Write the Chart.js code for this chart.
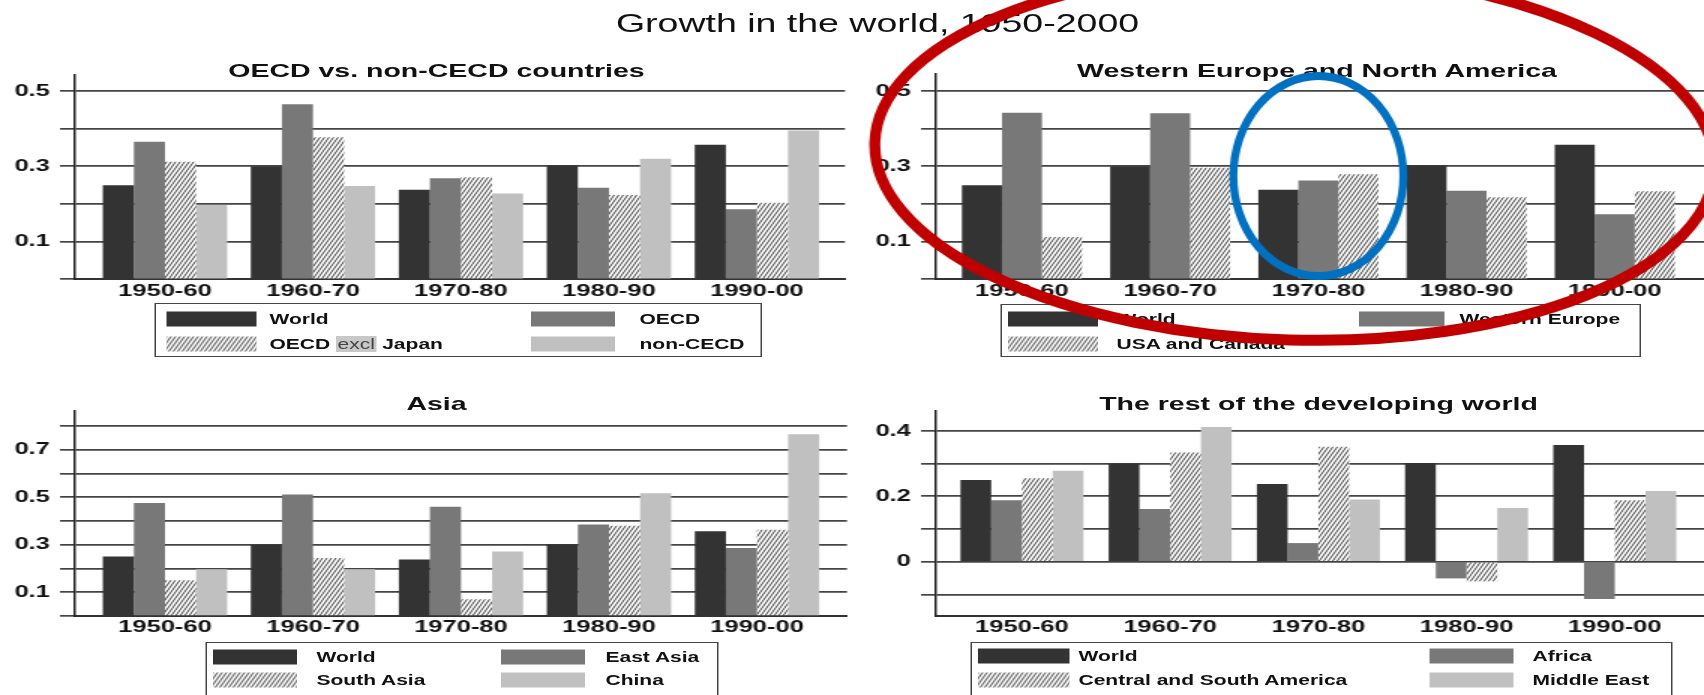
<!DOCTYPE html>
<html>
<head>
<meta charset="utf-8">
<title>Growth in the world, 1950-2000</title>
<script src="https://cdn.jsdelivr.net/npm/chart.js@4.4.1/dist/chart.umd.min.js"></script>
<style>
  html, body { margin: 0; padding: 0; background: #fff; overflow: hidden; }
  /* the original picture is stretched sideways, so the whole page is laid out narrow and scaled */
  #page {
    position: absolute; left: 0; top: 0; width: 1136px; height: 695px;
    transform: scaleX(1.5); transform-origin: 0 0;
    font-family: 'Liberation Sans', Arial, sans-serif; color: #111;
  }
  .title { position: absolute; white-space: nowrap; line-height: 1; transform: translate(-50%, -50%); z-index: 1; }
  .sub { font-weight: bold; font-size: 19px; }
  .legend { position: absolute; border: 1px solid #444; box-sizing: border-box; background: #fff; z-index: 1; }
  .sw { position: absolute; height: 15px; transform: translateY(-50%); }
  .lt { position: absolute; font-weight: bold; font-size: 14px; line-height: 1; white-space: nowrap; transform: translateY(-50%); }
  .hl { font-weight: normal; background: #c8c8c8; color: #444; padding: 0 1px; }
  canvas { position: absolute; z-index: 2; }
</style>
</head>
<body>
<div id="page">
  <div class="title" style="left:585px; top:23px; font-size:25px;">Growth in the world, 1950-2000</div>
  <div class="title sub" style="left:291px; top:70px;">OECD vs. non-CECD countries</div>
  <div class="title sub" style="left:878px; top:70px;">Western Europe and North America</div>
  <div class="title sub" style="left:291px; top:403px;">Asia</div>
  <div class="title sub" style="left:879px; top:403px;">The rest of the developing world</div>
  <canvas id="c1" width="570" height="370" style="left:0; top:0;"></canvas>
  <canvas id="c2" width="566" height="370" style="left:570px; top:0;"></canvas>
  <canvas id="c3" width="570" height="325" style="left:0; top:370px;"></canvas>
  <canvas id="c4" width="566" height="325" style="left:570px; top:370px;"></canvas>
</div>
<script>
const S = 1.5;

const periods = ['1950-60', '1960-70', '1970-80', '1980-90', '1990-00'];

const world = [0.25, 0.30, 0.238, 0.302, 0.357];

const oecd = [0.365, 0.465, 0.268, 0.243, 0.186];
const oecdExclJapan = [0.312, 0.377, 0.271, 0.224, 0.203];
const nonOecd = [0.197, 0.248, 0.228, 0.320, 0.395];

const westernEurope = [0.442, 0.441, 0.262, 0.235, 0.173];
const usaCanada = [0.112, 0.296, 0.279, 0.218, 0.234];

const eastAsia = [0.476, 0.512, 0.46, 0.385, 0.286];
const southAsia = [0.15, 0.244, 0.07, 0.38, 0.363];
const china = [0.197, 0.197, 0.272, 0.517, 0.765];

const africa = [0.188, 0.161, 0.057, -0.051, -0.114];
const centralSouthAmerica = [0.255, 0.334, 0.352, -0.06, 0.188];
const middleEast = [0.278, 0.412, 0.19, 0.164, 0.216];

const ticksTop = ['0.1', '0.3', '0.5'];
const ticksAsia = ['0.1', '0.3', '0.5', '0.7'];
const ticksRest = ['0', '0.2', '0.4'];

const DARK = '#333333', MID = '#787878', LIGHT = '#c0c0c0';

// small tile for the hatched series
const hatch = document.createElement('canvas');
hatch.width = 3; hatch.height = 6;
(function () {
    const g = hatch.getContext('2d');
    g.fillStyle = '#fff';
    g.fillRect(0, 0, 3, 6);
    g.strokeStyle = '#2a2a2a';
    g.lineWidth = 0.9;
    for (const dx of [-3, 0, 3]) {
        g.beginPath();
        g.moveTo(dx - 1, 8);
        g.lineTo(dx + 4, -2);
        g.stroke();
    }
})();

Chart.defaults.font.family = "'Liberation Sans', Arial, sans-serif";
Chart.defaults.font.size = 17;
Chart.defaults.font.weight = 'bold';
Chart.defaults.color = '#111';

function panel(id, o) {
    const ctx = document.getElementById(id).getContext('2d');
    const pat = ctx.createPattern(hatch, 'repeat');
    return new Chart(ctx, {
        type: 'bar',
        data: {
            labels: periods.map((p, i) => i),
            datasets: o.series.map((s, k) => ({
                label: o.names[k],
                data: s,
                backgroundColor: o.fills[k] === 'hatch' ? pat : o.fills[k],
                borderWidth: 0,
                barPercentage: 1,
                categoryPercentage: o.catPct
            }))
        },
        options: {
            responsive: false,
            animation: false,
            events: [],
            layout: { padding: o.pad },
            plugins: { legend: { display: false }, tooltip: { enabled: false } },
            scales: {
                x: {
                    type: 'linear', min: o.xr[0], max: o.xr[1], offset: false,
                    grid: { display: false, drawTicks: false },
                    border: { display: true, color: '#333', width: 2 },
                    ticks: { padding: o.xpad, autoSkip: false, maxRotation: 0, callback: v => periods[v] },
                    afterBuildTicks: s => { s.ticks = periods.map((p, i) => ({ value: i })); },
                    afterFit: s => { s.height = 30; }
                },
                y: {
                    min: o.yr[0], max: o.yr[1],
                    ticks: {
                        stepSize: 0.1, padding: 6.7,
                        callback: v => {
                            const t = String(+v.toFixed(1));
                            return o.shown.includes(t) ? t : '';
                        }
                    },
                    // one line every 0.1 inside the range
                    afterBuildTicks: s => {
                        const t = [];
                        for (let v = Math.ceil(s.min * 10 - 1e-6); v <= Math.floor(s.max * 10 + 1e-6); v++) t.push({ value: v / 10 });
                        s.ticks = t;
                    },
                    grid: { color: '#444', lineWidth: 1.7, tickLength: 10 },
                    border: { color: '#222', width: 1.5 },
                    afterFit: s => { s.width = 50; }
                }
            }
        },
        plugins: o.plugins || []
    });
}

// red and blue rings drawn over the top right panel
const rings = {
    id: 'rings',
    afterDraw(chart) {
        const { ctx, scales: { x, y } } = chart;
        ctx.save();
        ctx.scale(1 / S, 1);
        ctx.lineWidth = 11;
        ctx.strokeStyle = '#c00000';
        ctx.beginPath();
        ctx.ellipse(x.getPixelForValue(1.84) * S, y.getPixelForValue(0.33), 420, 185, 0.03, 0, Math.PI * 2);
        ctx.stroke();
        ctx.lineWidth = 8;
        ctx.strokeStyle = '#0070c0';
        ctx.beginPath();
        ctx.ellipse(x.getPixelForValue(2) * S, y.getPixelForValue(0.274), 85, 100, 0, 0, Math.PI * 2);
        ctx.stroke();
        ctx.restore();
    }
};

function legend(names, fills, box, colX, colW, textX, rowY) {
    const page = document.getElementById('page');
    const div = document.createElement('div');
    div.className = 'legend';
    div.style.left = box[0] / S + 'px';
    div.style.top = box[1] + 'px';
    div.style.width = box[2] / S + 'px';
    div.style.height = box[3] + 'px';
    page.appendChild(div);
    names.forEach((name, k) => {
        const col = k % 2, row = Math.floor(k / 2);
        const sw = document.createElement('div');
        sw.className = 'sw';
        sw.style.left = (colX[col] - box[0]) / S + 'px';
        sw.style.width = colW[col] / S + 'px';
        sw.style.top = (rowY[row] - box[1]) + 'px';
        if (fills[k] === 'hatch') sw.style.backgroundImage = 'url(' + hatch.toDataURL() + ')';
        else sw.style.background = fills[k];
        div.appendChild(sw);
        const t = document.createElement('div');
        t.className = 'lt';
        t.style.left = (textX[col] - box[0]) / S + 'px';
        t.style.top = (rowY[row] - box[1]) + 'px';
        t.innerHTML = name.replace('excl', '<span class="hl">excl</span>');
        div.appendChild(t);
    });
}

const p1 = { names: ['World', 'OECD', 'OECD excl Japan', 'non-CECD'], fills: [DARK, MID, 'hatch', LIGHT] };
const p2 = { names: ['World', 'Western Europe', 'USA and Canada'], fills: [DARK, MID, 'hatch'] };
const p3 = { names: ['World', 'East Asia', 'South Asia', 'China'], fills: [DARK, MID, 'hatch', LIGHT] };
const p4 = { names: ['World', 'Africa', 'Central and South America', 'Middle East'], fills: [DARK, MID, 'hatch', LIGHT] };

panel('c1', Object.assign({
    series: [world, oecd, oecdExclJapan, nonOecd], catPct: 0.84,
    pad: { left: 0, right: 6.67, top: 75, bottom: 60.7 },
    xr: [-0.608, 4.595], yr: [0, 0.5425], xpad: 2, shown: ticksTop
}, p1));

panel('c2', Object.assign({
    series: [world, westernEurope, usaCanada], catPct: 0.81,
    pad: { left: 4, right: 0, top: 74, bottom: 60.7 },
    xr: [-0.58, 4.602], yr: [0, 0.545], xpad: 2, shown: ticksTop,
    plugins: [rings]
}, p2));

panel('c3', Object.assign({
    series: [world, eastAsia, southAsia, china], catPct: 0.84,
    pad: { left: 0, right: 5.33, top: 41, bottom: 49 },
    xr: [-0.608, 4.608], yr: [0, 0.863], xpad: 1, shown: ticksAsia
}, p3));

panel('c4', Object.assign({
    series: [world, africa, centralSouthAmerica, middleEast], catPct: 0.83,
    pad: { left: 4, right: 0, top: 41, bottom: 49 },
    xr: [-0.58, 4.602], yr: [-0.166, 0.461], xpad: 1, shown: ticksRest
}, p4));

legend(p1.names, p1.fills, [155, 303, 607, 54], [165, 530], [90, 84], [268, 638], [318, 343]);
legend(p2.names, p2.fills, [1000, 304, 641, 53], [1007, 1358], [90, 85], [1115, 1458], [318, 343]);
legend(p3.names, p3.fills, [205, 642, 514, 70], [212, 499], [83, 85], [315, 604], [656, 679]);
legend(p4.names, p4.fills, [971, 642, 702, 70], [977, 1428], [91, 84], [1077, 1531], [655, 679]);
</script>
</body>
</html>
